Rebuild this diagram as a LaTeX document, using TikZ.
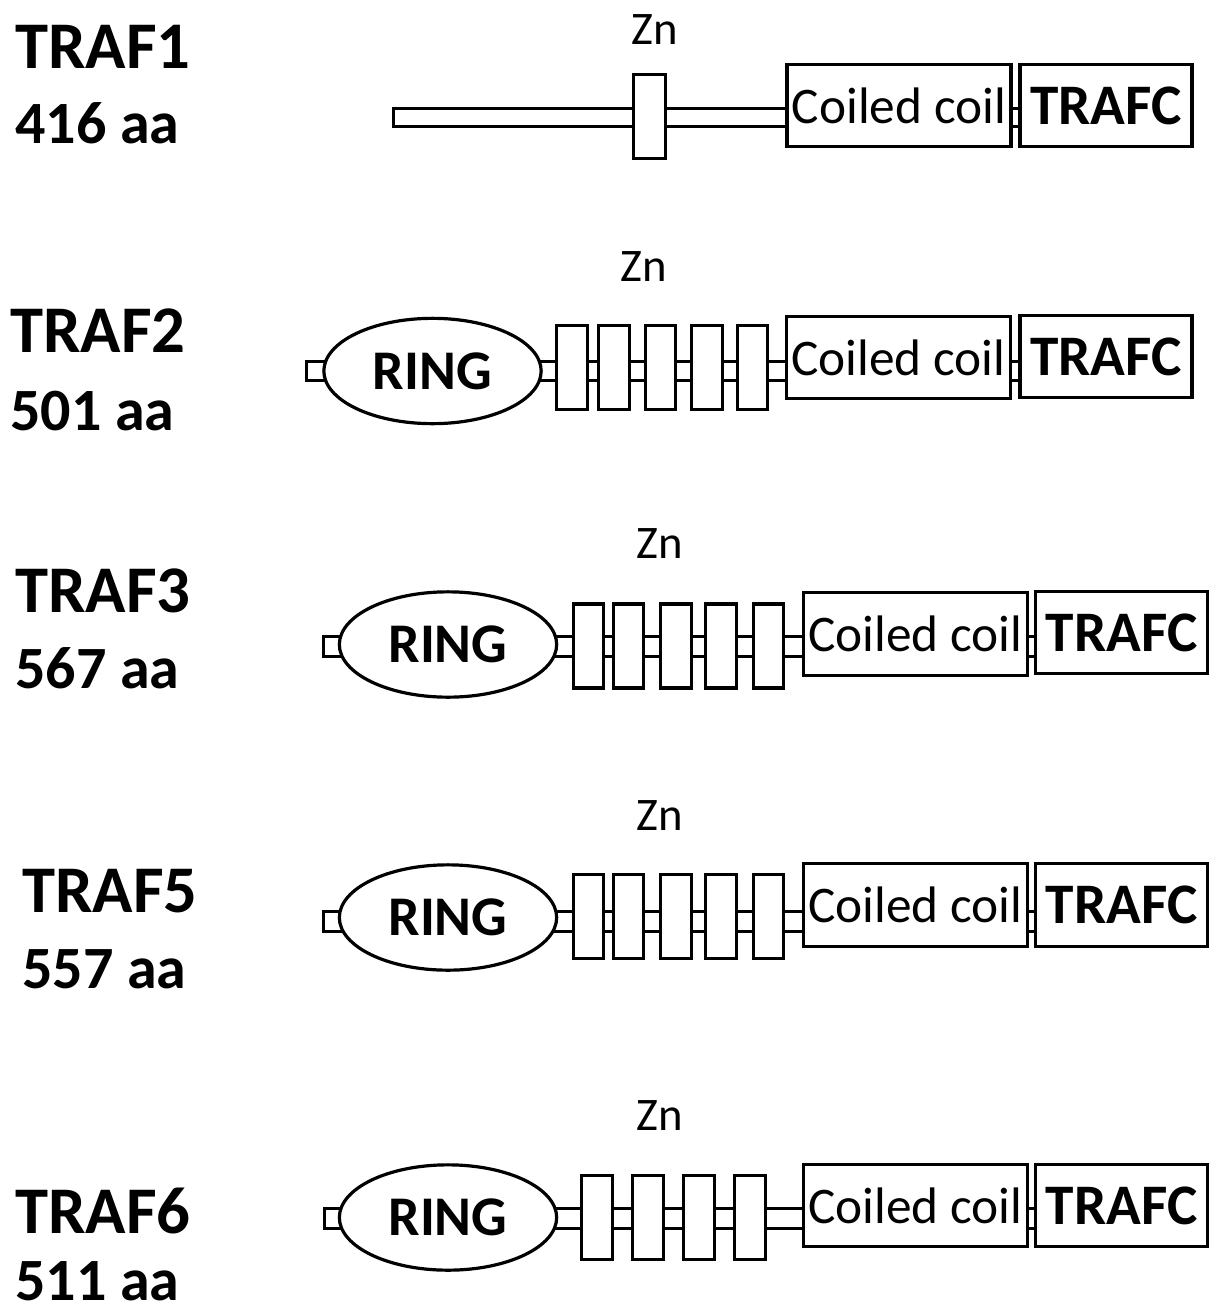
\documentclass[tikz,border=0pt]{standalone}
\usepackage{fontspec}
\setmainfont{Carlito}
\usetikzlibrary{backgrounds,shapes.geometric}
\tikzset{
 lw/.style={line width=2.4pt},
 dom/.style={draw, lw, fill=white, rectangle, inner sep=0pt},
 zbox/.style={dom, minimum width=23pt, minimum height=63pt},
 zboxa/.style={dom, minimum width=24pt, minimum height=63pt},
 ccbox/.style={dom, minimum width=168pt, minimum height=62pt, font=\fontsize{38.5}{40}\selectfont},
 tcbox/.style={dom, minimum width=129pt, minimum height=62pt, font=\bfseries\fontsize{43}{45}\selectfont},
 ringnode/.style={draw, lw, fill=white, ellipse, inner sep=0pt, minimum width=163pt, minimum height=79pt, font=\bfseries\fontsize{42}{44}\selectfont},
 protname/.style={anchor=base west, inner sep=0pt, font=\bfseries\fontsize{50}{52}\selectfont},
 protlen/.style={anchor=base west, inner sep=0pt, font=\bfseries\fontsize{45}{47}\selectfont},
 znlabel/.style={inner sep=0pt, font=\fontsize{35}{37}\selectfont},
 bar/.style={draw, lw, fill=white},
}
\begin{document}
\begin{tikzpicture}[x=0.75pt,y=-0.75pt]
\useasboundingbox (0,0) rectangle (1215,1310);
\begin{scope}[on background layer]
\fill[white] (0,0) rectangle (1215,1310);
\end{scope}

% ---------- TRAF1 ----------
\node[protname] (t1) at (15,68) {TRAF1};
\node[protlen] (l1) at (15,143) {416 aa};
\node[znlabel] (zn1) at (655,30) {Zn};
\node[zboxa] (z1a) at (649.5,116.5) {};
\node[ccbox] (cc1) at (899,105.5) {Coiled coil};
\node[tcbox] (tc1) at (1106,105.5) {TRAFC};
\coordinate (b1t) at (393.5,108.5);
\coordinate (b1b) at (393.5,126.5);
\begin{scope}[on background layer]
\draw[bar] (b1t) rectangle (tc1.center |- b1b);
\end{scope}

% ---------- TRAF2 ----------
\node[protname] (t2) at (10,352) {TRAF2};
\node[protlen] (l2) at (10,430) {501 aa};
\node[znlabel] (zn2) at (644,267) {Zn};
\node[ringnode] (r2) at (432.5,371) {RING};
\node[zbox] (z2a) at (572,367.5) {};
\node[zbox] (z2b) at (614,367.5) {};
\node[zbox] (z2c) at (660.5,367.5) {};
\node[zbox] (z2d) at (707,367.5) {};
\node[zbox] (z2e) at (752.5,367.5) {};
\node[ccbox] (cc2) at (898.5,357.5) {Coiled coil};
\node[tcbox] (tc2) at (1106,356.5) {TRAFC};
\coordinate (b2t) at (306.5,361.5);
\coordinate (b2b) at (306.5,380.5);
\begin{scope}[on background layer]
\draw[bar] (b2t) rectangle (tc2.center |- b2b);
\end{scope}

% ---------- TRAF3 ----------
\node[protname] (t3) at (15,612) {TRAF3};
\node[protlen] (l3) at (15,688) {567 aa};
\node[znlabel] (zn3) at (660,544) {Zn};
\node[ringnode] (r3) at (448,644.5) {RING};
\node[zbox] (z3a) at (588.5,646) {};
\node[zbox] (z3b) at (628.5,646) {};
\node[zbox] (z3c) at (676,646) {};
\node[zbox] (z3d) at (721,646) {};
\node[zbox] (z3e) at (768.5,646) {};
\node[ccbox] (cc3) at (915.5,634) {Coiled coil};
\node[tcbox] (tc3) at (1121.5,632.5) {TRAFC};
\coordinate (b3t) at (323.5,636.5);
\coordinate (b3b) at (323.5,656.5);
\begin{scope}[on background layer]
\draw[bar] (b3t) rectangle (tc3.center |- b3b);
\end{scope}

% ---------- TRAF5 ----------
\node[protname] (t5) at (22,912) {TRAF5};
\node[protlen] (l5) at (22,988) {557 aa};
\node[znlabel] (zn5) at (660,816) {Zn};
\node[ringnode] (r5) at (448,917.5) {RING};
\node[zbox] (z5a) at (588.5,916.5) {};
\node[zbox] (z5b) at (628.5,916.5) {};
\node[zbox] (z5c) at (676,916.5) {};
\node[zbox] (z5d) at (721,916.5) {};
\node[zbox] (z5e) at (768.5,916.5) {};
\node[ccbox] (cc5) at (915.5,905) {Coiled coil};
\node[tcbox] (tc5) at (1121.5,905) {TRAFC};
\coordinate (b5t) at (323.5,911.5);
\coordinate (b5b) at (323.5,931.5);
\begin{scope}[on background layer]
\draw[bar] (b5t) rectangle (tc5.center |- b5b);
\end{scope}

% ---------- TRAF6 ----------
\node[protname] (t6) at (15,1233) {TRAF6};
\node[protlen] (l6) at (15,1300) {511 aa};
\node[znlabel] (zn6) at (660,1116) {Zn};
\node[ringnode] (r6) at (448,1217.5) {RING};
\node[zbox] (z6a) at (597,1217.5) {};
\node[zbox] (z6b) at (648,1217.5) {};
\node[zbox] (z6c) at (699,1217.5) {};
\node[zbox] (z6d) at (750,1217.5) {};
\node[ccbox] (cc6) at (915.5,1205.5) {Coiled coil};
\node[tcbox] (tc6) at (1121.5,1205.5) {TRAFC};
\coordinate (b6t) at (324.5,1208.5);
\coordinate (b6b) at (324.5,1228.5);
\begin{scope}[on background layer]
\draw[bar] (b6t) rectangle (tc6.center |- b6b);
\end{scope}
\end{tikzpicture}
\end{document}
